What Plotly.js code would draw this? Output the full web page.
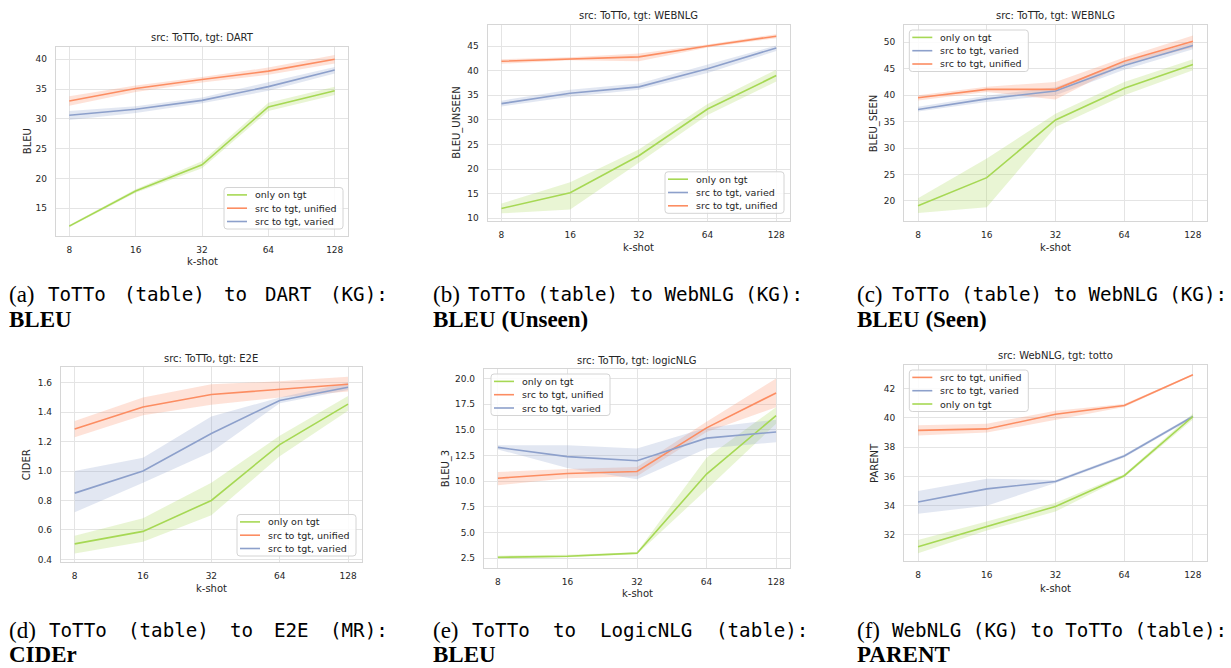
<!DOCTYPE html>
<html><head><meta charset="utf-8">
<script src="https://cdn.plot.ly/plotly-3.0.1.min.js"></script>
<style>html,body{margin:0;padding:0;background:#fff;}#chart{width:1231px;height:668px;}</style>
</head><body><div id="chart"></div>
<script>
// ---------------- DATA ----------------
const kShot = [8, 16, 32, 64, 128];
const kShotLabels = ['8', '16', '32', '64', '128'];
const seriesNames = ['only on tgt', 'src to tgt, unified', 'src to tgt, varied'];

// (a) src ToTTo, tgt DART : BLEU
const dartOnlyMean = [12.0, 17.9, 22.3, 32.0, 34.7];
const dartOnlyLo   = [11.8, 17.6, 21.7, 31.3, 34.0];
const dartOnlyHi   = [12.2, 18.2, 22.9, 32.7, 35.4];
const dartUniMean  = [33.0, 35.1, 36.6, 38.0, 40.0];
const dartUniLo    = [32.2, 34.5, 36.1, 37.4, 39.3];
const dartUniHi    = [33.8, 35.6, 37.0, 38.6, 40.7];
const dartVarMean  = [30.6, 31.6, 33.1, 35.4, 38.2];
const dartVarLo    = [29.8, 31.0, 32.6, 34.7, 37.6];
const dartVarHi    = [31.3, 32.1, 33.6, 36.1, 38.7];

// (b) src ToTTo, tgt WEBNLG : BLEU_UNSEEN
const unseenOnlyMean = [12.0, 15.2, 22.7, 32.2, 39.0];
const unseenOnlyLo   = [11.0, 11.8, 21.3, 31.0, 37.8];
const unseenOnlyHi   = [13.0, 17.3, 24.0, 33.2, 40.2];
const unseenVarMean  = [33.3, 35.4, 36.7, 40.4, 44.6];
const unseenVarLo    = [32.7, 34.7, 36.1, 39.5, 44.0];
const unseenVarHi    = [33.9, 36.1, 37.4, 41.3, 45.1];
const unseenUniMean  = [41.9, 42.4, 42.8, 45.0, 47.0];
const unseenUniLo    = [41.4, 42.1, 41.9, 44.7, 46.6];
const unseenUniHi    = [42.3, 42.7, 43.5, 45.3, 47.4];

// (c) src ToTTo, tgt WEBNLG : BLEU_SEEN
const seenOnlyMean = [19.1, 24.4, 35.3, 41.3, 45.8];
const seenOnlyLo   = [17.7, 18.8, 34.0, 40.0, 44.7];
const seenOnlyHi   = [20.5, 28.0, 36.5, 42.5, 46.8];
const seenVarMean  = [37.3, 39.3, 40.8, 45.6, 49.4];
const seenVarLo    = [36.9, 38.7, 40.0, 44.8, 48.7];
const seenVarHi    = [37.8, 39.9, 41.5, 46.3, 50.0];
const seenUniMean  = [39.5, 41.1, 41.1, 46.4, 50.2];
const seenUniLo    = [39.0, 40.6, 39.2, 45.8, 49.0];
const seenUniHi    = [40.0, 41.6, 42.5, 47.1, 51.3];

// (d) src ToTTo, tgt E2E : CIDER
const e2eOnlyMean = [0.505, 0.59, 0.80, 1.18, 1.455];
const e2eOnlyLo   = [0.44, 0.52, 0.70, 1.10, 1.41];
const e2eOnlyHi   = [0.56, 0.68, 0.92, 1.24, 1.51];
const e2eUniMean  = [1.285, 1.435, 1.52, 1.555, 1.59];
const e2eUniLo    = [1.23, 1.38, 1.45, 1.50, 1.54];
const e2eUniHi    = [1.34, 1.50, 1.59, 1.61, 1.64];
const e2eVarMean  = [0.85, 1.0, 1.255, 1.48, 1.57];
const e2eVarLo    = [0.72, 0.92, 1.13, 1.46, 1.55];
const e2eVarHi    = [1.0, 1.09, 1.37, 1.50, 1.60];

// (e) src ToTTo, tgt logicNLG : BLEU_3
const logicOnlyMean = [2.6, 2.7, 3.0, 10.7, 16.4];
const logicOnlyLo   = [2.45, 2.6, 2.9, 9.2, 15.6];
const logicOnlyHi   = [2.75, 2.85, 3.1, 12.3, 17.2];
const logicUniMean  = [10.3, 10.75, 10.95, 15.2, 18.6];
const logicUniLo    = [9.6, 10.3, 10.5, 14.8, 17.2];
const logicUniHi    = [10.9, 11.2, 11.4, 15.8, 20.0];
const logicVarMean  = [13.3, 12.4, 12.0, 14.2, 14.8];
const logicVarLo    = [13.1, 11.3, 10.2, 13.2, 13.8];
const logicVarHi    = [13.5, 13.5, 13.2, 15.2, 16.0];

// (f) src WebNLG, tgt totto : PARENT
const tottoUniMean  = [39.15, 39.25, 40.25, 40.85, 42.95];
const tottoUniLo    = [38.8, 39.0, 39.9, 40.75, 42.9];
const tottoUniHi    = [39.5, 39.6, 40.5, 40.95, 43.0];
const tottoVarMean  = [34.25, 35.15, 35.65, 37.4, 40.1];
const tottoVarLo    = [33.45, 34.0, 35.55, 37.3, 40.0];
const tottoVarHi    = [35.0, 35.85, 35.75, 37.5, 40.2];
const tottoOnlyMean = [31.2, 32.6, 33.95, 36.05, 40.1];
const tottoOnlyLo   = [30.75, 32.3, 33.6, 35.95, 39.9];
const tottoOnlyHi   = [31.65, 32.9, 34.2, 36.15, 40.3];

// ---------------- STYLE / LAYOUT ----------------
const W = 1231, H = 668;
const px = x => x / W;
const py = y => 1 - y / H;
const COL = {only: '#a6d854', uni: '#fc8d62', vari: '#8da0cb'};
const FILL = {only: 'rgba(166,216,84,0.25)', uni: 'rgba(252,141,98,0.25)', vari: 'rgba(141,160,203,0.25)'};
const NAME = {only: seriesNames[0], uni: seriesNames[1], vari: seriesNames[2]};
const TXT = '#262626';
const SANS = 'DejaVu Sans';

const panels = [
  {box: [56, 46.7, 348, 235.7], yr: [10.4, 42.1], dt: 5, fmt: '', ylab: 'BLEU', ylabX: 27,
   title: 'src: ToTTo, tgt: DART', titleY: 37.7, xlabY: 261.7,
   leg: {x: 343, y: 229, xa: 'right', ya: 'bottom'},
   series: [['only', dartOnlyMean, dartOnlyLo, dartOnlyHi], ['uni', dartUniMean, dartUniLo, dartUniHi], ['vari', dartVarMean, dartVarLo, dartVarHi]]},
  {box: [487.7, 25, 790, 221], yr: [9.45, 49.27], dt: 5, fmt: '', ylab: 'BLEU_UNSEEN', ylabX: 456.7,
   title: 'src: ToTTo, tgt: WEBNLG', titleY: 15.7, xlabY: 247,
   leg: {x: 784, y: 213.3, xa: 'right', ya: 'bottom'},
   series: [['only', unseenOnlyMean, unseenOnlyLo, unseenOnlyHi], ['vari', unseenVarMean, unseenVarLo, unseenVarHi], ['uni', unseenUniMean, unseenUniLo, unseenUniHi]]},
  {box: [904.3, 25, 1206.7, 221], yr: [16.2, 53.27], dt: 5, fmt: '', ylab: 'BLEU_SEEN', ylabX: 874.3,
   title: 'src: ToTTo, tgt: WEBNLG', titleY: 15.7, xlabY: 247,
   leg: {x: 909.3, y: 30, xa: 'left', ya: 'top'},
   series: [['only', seenOnlyMean, seenOnlyLo, seenOnlyHi], ['vari', seenVarMean, seenVarLo, seenVarHi], ['uni', seenUniMean, seenUniLo, seenUniHi]]},
  {box: [61, 367.3, 361.7, 561.7], yr: [0.384, 1.705], dt: 0.2, fmt: '.1f', ylab: 'CIDER', ylabX: 26.7,
   title: 'src: ToTTo, tgt: E2E', titleY: 358.3, xlabY: 588,
   leg: {x: 356, y: 556, xa: 'right', ya: 'bottom'},
   series: [['only', e2eOnlyMean, e2eOnlyLo, e2eOnlyHi], ['uni', e2eUniMean, e2eUniLo, e2eUniHi], ['vari', e2eVarMean, e2eVarLo, e2eVarHi]]},
  {box: [484, 369.3, 790, 567.7], yr: [1.585, 20.9], dt: 2.5, fmt: '.1f', ylab: 'BLEU_3', ylabX: 445.7,
   title: 'src: ToTTo, tgt: logicNLG', titleY: 360, xlabY: 593.3,
   leg: {x: 491, y: 374, xa: 'left', ya: 'top'},
   series: [['only', logicOnlyMean, logicOnlyLo, logicOnlyHi], ['uni', logicUniMean, logicUniLo, logicUniHi], ['vari', logicVarMean, logicVarLo, logicVarHi]]},
  {box: [904.3, 365, 1206.7, 561], yr: [30.22, 43.62], dt: 2, fmt: '', ylab: 'PARENT', ylabX: 874,
   title: 'src: WebNLG, tgt: totto', titleY: 355.7, xlabY: 588.3,
   leg: {x: 909.3, y: 370, xa: 'left', ya: 'top'},
   series: [['uni', tottoUniMean, tottoUniLo, tottoUniHi], ['vari', tottoVarMean, tottoVarLo, tottoVarHi], ['only', tottoOnlyMean, tottoOnlyLo, tottoOnlyHi]]}
];

const traces = [];
const layout = {
  width: W, height: H, margin: {l: 0, r: 0, t: 0, b: 0},
  paper_bgcolor: '#ffffff', plot_bgcolor: '#ffffff',
  font: {family: SANS, color: TXT, size: 9},
  showlegend: false, annotations: [], shapes: []
};
const lg8 = Math.log10(8), lg128 = Math.log10(128), pad = 0.2 * Math.log10(2);

// legend box drawn in panel, entries follow each panel's series order
function addLegend(leg, series) {
  const w = 119, h = 41.5, r = 3;
  const bx = leg.xa === 'right' ? leg.x - w : leg.x;
  const by = leg.ya === 'bottom' ? leg.y - h : leg.y;
  const X = v => px(v), Y = v => py(v);
  const path = 'M' + X(bx + r) + ',' + Y(by) + ' L' + X(bx + w - r) + ',' + Y(by) +
    ' Q' + X(bx + w) + ',' + Y(by) + ' ' + X(bx + w) + ',' + Y(by + r) +
    ' L' + X(bx + w) + ',' + Y(by + h - r) +
    ' Q' + X(bx + w) + ',' + Y(by + h) + ' ' + X(bx + w - r) + ',' + Y(by + h) +
    ' L' + X(bx + r) + ',' + Y(by + h) +
    ' Q' + X(bx) + ',' + Y(by + h) + ' ' + X(bx) + ',' + Y(by + h - r) +
    ' L' + X(bx) + ',' + Y(by + r) +
    ' Q' + X(bx) + ',' + Y(by) + ' ' + X(bx + r) + ',' + Y(by) + ' Z';
  layout.shapes.push({type: 'path', xref: 'paper', yref: 'paper', path: path,
    fillcolor: 'rgba(255,255,255,0.85)', line: {color: '#d4d4d4', width: 1}, layer: 'above'});
  series.forEach((s, k) => {
    const key = s[0];
    const yy = by + 7.4 + 13.3 * k;
    layout.shapes.push({type: 'line', xref: 'paper', yref: 'paper', x0: X(bx + 3), x1: X(bx + 23),
      y0: Y(yy), y1: Y(yy), line: {color: COL[key], width: 1.6}, layer: 'above'});
    layout.annotations.push({text: NAME[key], xref: 'paper', yref: 'paper', x: X(bx + 29.5), y: Y(yy),
      xanchor: 'left', yanchor: 'middle', showarrow: false, borderpad: 0,
      font: {family: SANS, size: 9.5, color: TXT}});
  });
}

panels.forEach((p, i) => {
  const n = i === 0 ? '' : String(i + 1);
  const xa = 'x' + n, ya = 'y' + n;
  const [l, t, r, b] = p.box;
  layout['xaxis' + n] = {
    type: 'log', range: [lg8 - pad, lg128 + pad], domain: [px(l), px(r)], anchor: ya,
    tickmode: 'array', tickvals: kShot, ticktext: kShotLabels, ticks: '', ticklabelstandoff: 5,
    showgrid: true, gridcolor: '#e4e4e4', gridwidth: 1, zeroline: false,
    showline: true, mirror: true, linecolor: '#d6d6d6', linewidth: 1.2,
    tickfont: {family: SANS, size: 9, color: TXT}, fixedrange: true
  };
  layout['yaxis' + n] = {
    range: p.yr, domain: [py(b), py(t)], anchor: xa,
    tickmode: 'linear', tick0: 0, dtick: p.dt, tickformat: p.fmt, ticks: '', ticklabelstandoff: 6,
    showgrid: true, gridcolor: '#e4e4e4', gridwidth: 1, zeroline: false,
    showline: true, mirror: true, linecolor: '#d6d6d6', linewidth: 1.2,
    tickfont: {family: SANS, size: 9, color: TXT}, fixedrange: true
  };
  // confidence bands
  p.series.forEach(s => {
    const [key, mean, lo, hi] = s;
    traces.push({
      type: 'scatter', mode: 'lines', xaxis: xa, yaxis: ya,
      x: kShot.concat(kShot.slice().reverse()),
      y: hi.concat(lo.slice().reverse()),
      fill: 'toself', fillcolor: FILL[key], line: {width: 0, color: FILL[key]},
      showlegend: false, hoverinfo: 'skip'
    });
  });
  // mean lines
  p.series.forEach(s => {
    const [key, mean] = s;
    traces.push({
      type: 'scatter', mode: 'lines', xaxis: xa, yaxis: ya, x: kShot, y: mean,
      name: NAME[key], line: {color: COL[key], width: 1.6}, showlegend: false
    });
  });
  addLegend(p.leg, p.series);
  layout.annotations.push({text: p.title, xref: 'paper', yref: 'paper', x: px((l + r) / 2), y: py(p.titleY),
    xanchor: 'center', yanchor: 'middle', showarrow: false, font: {family: SANS, size: 10, color: TXT}});
  layout.annotations.push({text: 'k-shot', xref: 'paper', yref: 'paper', x: px((l + r) / 2), y: py(p.xlabY),
    xanchor: 'center', yanchor: 'middle', showarrow: false, font: {family: SANS, size: 10, color: TXT}});
  layout.annotations.push({text: p.ylab, xref: 'paper', yref: 'paper', x: px(p.ylabX), y: py((t + b) / 2),
    xanchor: 'center', yanchor: 'middle', textangle: -90, showarrow: false, font: {family: SANS, size: 10, color: TXT}});
});

// ---------------- CAPTIONS ----------------
const MONO = 'DejaVu Sans Mono', SERIF = 'Liberation Serif';
const MONO_SIZE = 19.2, SERIF_SIZE = 23;
const charW = 0.602 * MONO_SIZE;
function addText(text, x, y, family, size, bold) {
  layout.annotations.push({text: bold ? '<b>' + text + '</b>' : text, xref: 'paper', yref: 'paper',
    x: px(x), y: py(y), xanchor: 'left', yanchor: 'middle', showarrow: false, borderpad: 0,
    font: {family: family, size: size, color: '#000'}});
}
function justified(words, x0, x1, y) {
  const total = words.reduce((s, w) => s + w.length, 0) * charW;
  const gap = (x1 - x0 - total) / (words.length - 1);
  let x = x0;
  words.forEach(w => { addText(w, x, y, MONO, MONO_SIZE, false); x += w.length * charW + gap; });
}
const captions = [
  {lab: '(a)', x: 8, y1: 295, y2: 319.5, words: ['ToTTo', '(table)', 'to', 'DART', '(KG):'], just: [47, 387], bold: 'BLEU'},
  {lab: '(b)', x: 432, y1: 295, y2: 319.5, line: 'ToTTo (table) to WebNLG (KG):', bold: 'BLEU (Unseen)'},
  {lab: '(c)', x: 856, y1: 295, y2: 319.5, line: 'ToTTo (table) to WebNLG (KG):', bold: 'BLEU (Seen)'},
  {lab: '(d)', x: 8, y1: 630.5, y2: 654.7, words: ['ToTTo', '(table)', 'to', 'E2E', '(MR):'], just: [48, 387], bold: 'CIDEr'},
  {lab: '(e)', x: 432, y1: 630.5, y2: 654.7, words: ['ToTTo', 'to', 'LogicNLG', '(table):'], just: [471, 807], bold: 'BLEU'},
  {lab: '(f)', x: 856, y1: 630.5, y2: 654.7, line: 'WebNLG (KG) to ToTTo (table):', bold: 'PARENT'}
];
captions.forEach(c => {
  addText(c.lab, c.x, c.y1, SERIF, SERIF_SIZE, false);
  if (c.words) justified(c.words, c.just[0], c.just[1], c.y1);
  else addText(c.line, c.x + 35, c.y1, MONO, MONO_SIZE, false);
  addText(c.bold, c.x, c.y2, SERIF, SERIF_SIZE, true);
});

Plotly.newPlot('chart', traces, layout, {staticPlot: true, displayModeBar: false});
</script>
</body></html>
